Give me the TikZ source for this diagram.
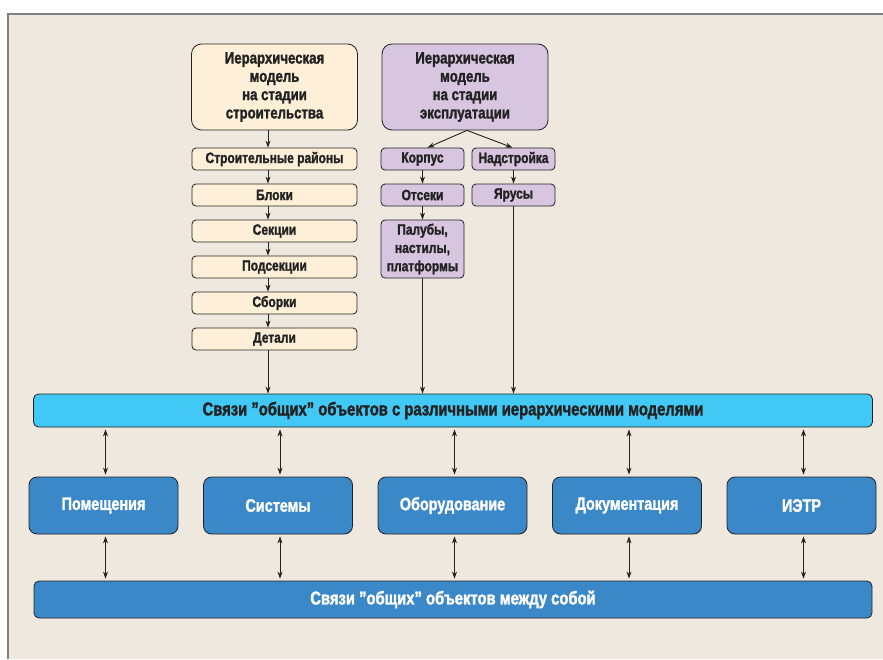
\documentclass[tikz,border=0pt]{standalone}
\usepackage{fontspec}
\setmainfont{Liberation Sans}[FakeStretch=0.8, BoldFont={Liberation Sans Bold},
    BoldFeatures={FakeStretch=0.8, FakeBold=1.6}]
\usetikzlibrary{arrows.meta}

\definecolor{fonbg}{HTML}{EFE8DF}
\definecolor{ramka}{HTML}{808080}
\definecolor{bezh}{HTML}{FEF0D8}
\definecolor{lilac}{HTML}{D8C6E0}
\definecolor{goluboi}{HTML}{42C8F4}
\definecolor{sinii}{HTML}{3A88C8}
\definecolor{linia}{HTML}{222222}

\begin{document}
\begin{tikzpicture}[x=1pt, y=-1pt, >={Stealth[length=7pt,width=5pt]},
    box/.style={draw=linia, line width=0.8pt, align=center, inner sep=0pt,
        font=\fontsize{15}{18.3}\selectfont\bfseries, text=linia},
    stroi/.style={box, fill=bezh, minimum width=165pt, minimum height=22pt, rounded corners=4pt},
    ekspl/.style={box, fill=lilac, minimum width=83pt, minimum height=22pt, rounded corners=4pt},
    glav/.style={box, minimum width=166pt, minimum height=86pt, rounded corners=10pt,
        font=\fontsize{16.5}{18.3}\selectfont\bfseries},
    obj/.style={box, fill=sinii, text=white, minimum width=149pt, minimum height=57pt,
        rounded corners=8pt, font=\fontsize{18}{20}\selectfont\bfseries},
    polosa/.style={box, minimum width=839pt, minimum height=33pt, rounded corners=5pt,
        font=\fontsize{18.5}{20}\selectfont\bfseries},
    svyaz/.style={draw=linia, line width=0.9pt}]

    % 1. Фон и рамка
    \useasboundingbox (0,0) rectangle (883,659);
    \fill[fonbg] (7,13) rectangle (883,659);
    \draw[ramka, line width=2pt] (8,659) -- (8,14) -- (883,14);

    % 2. Модель на стадии строительства
    \node[glav, fill=bezh] (mS) at (274.5,87)
        {Иерархическая\\модель\\на стадии\\строительства};
    \coordinate (colS) at (268,0);
    \foreach \nm/\txt [count=\i] in {rajon/Строительные районы, blok/Блоки,
            sekc/Секции, podsekc/Подсекции, sbork/Сборки, detal/Детали}
        \node[stroi] (\nm) at (274.5,{123+36*\i}) {\txt};
    \foreach \a/\b in {mS/rajon, rajon/blok, blok/sekc, sekc/podsekc,
            podsekc/sbork, sbork/detal}
        \draw[svyaz, ->] (\a.south -| colS) -- (\b.north -| colS);

    % 3. Модель на стадии эксплуатации
    \node[glav, fill=lilac] (mE) at (465,87)
        {Иерархическая\\модель\\на стадии\\эксплуатации};
    \node[ekspl] (korp) at (422.5,159) {Корпус};
    \node[ekspl] (nadstr) at (513.5,159) {Надстройка};
    \node[ekspl] (otsek) at (422.5,195) {Отсеки};
    \node[ekspl] (yarus) at (513.5,195) {Ярусы};
    \node[ekspl, minimum height=58pt] (paluba) at (422.5,249)
        {Палубы,\\настилы,\\платформы};
    \draw[svyaz, ->] ([xshift=2pt]mE.south) -- ([xshift=5pt]korp.north);
    \draw[svyaz, ->] ([xshift=2pt]mE.south) -- ([xshift=-1pt]nadstr.north);
    \draw[svyaz, ->] (korp) -- (otsek);
    \draw[svyaz, ->] (otsek) -- (paluba);
    \draw[svyaz, ->] (nadstr) -- (yarus);

    % 4. Связи с иерархическими моделями
    \node[polosa, fill=goluboi] (svyazi) at (453,410.5)
        {Связи "общих" объектов с различными иерархическими моделями};
    \draw[svyaz, ->] (detal.south -| colS) -- (svyazi.north -| colS);
    \draw[svyaz, ->] (paluba) -- (paluba |- svyazi.north);
    \draw[svyaz, ->] (yarus) -- (yarus |- svyazi.north);

    % 5. Общие объекты
    \foreach \nm/\txt [count=\i] in {pomesch/Помещения, sistem/Системы,
            oborud/Оборудование, dokum/Документация, ietr/ИЭТР}
        \node[obj] (\nm) at ({-71+174.5*\i},505.5) {\txt};

    % 6. Связи объектов между собой
    \node[polosa, fill=sinii, text=white, minimum width=838pt, minimum height=37pt]
        (mezhdu) at (453,599.5) {Связи "общих" объектов между собой};
    \foreach \nm in {pomesch, sistem, oborud, dokum, ietr} {
        \draw[svyaz, <->, shorten <=2pt, shorten >=2pt]
            ([xshift=2pt]\nm.north) -- ([xshift=2pt]\nm.north |- svyazi.south);
        \draw[svyaz, <->, shorten <=2pt, shorten >=2pt]
            ([xshift=2pt]\nm.south) -- ([xshift=2pt]\nm.south |- mezhdu.north);
    }
\end{tikzpicture}
\end{document}
